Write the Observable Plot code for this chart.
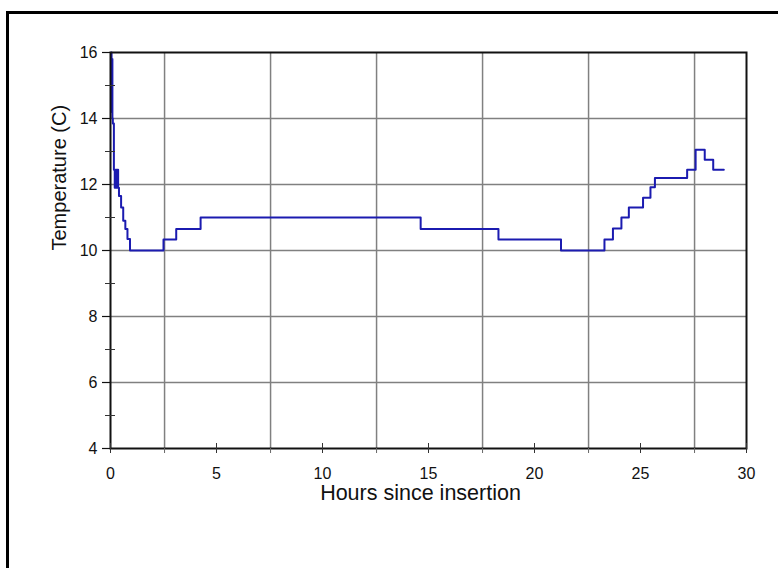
<!DOCTYPE html>
<html>
<head>
<meta charset="utf-8">
<script src="https://cdn.jsdelivr.net/npm/d3@7"></script>
<script src="https://cdn.jsdelivr.net/npm/@observablehq/plot@0.6"></script>
<style>
  html, body { margin: 0; padding: 0; background: #fff; }
  #wrap { position: relative; width: 778px; height: 568px; overflow: hidden; background: #fff; }
  #wrap svg { position: absolute; left: 0; top: 0; }
  #border { position: absolute; left: 6px; top: 11px; right: -10px; bottom: -10px;
            border-left: 3px solid #000; border-top: 3px solid #000; pointer-events: none; }
</style>
</head>
<body>
<div id="wrap"><div id="border"></div></div>
<script>
// Hours since insertion (time of each reading) and temperature (C) held from that time on
const hours = [0.03, 0.05, 0.07, 0.09, 0.11, 0.16, 0.20, 0.24, 0.28, 0.32, 0.36, 0.40, 0.50, 0.60, 0.70, 0.80, 0.92,
               2.50, 3.10, 4.25, 14.63, 18.30, 21.25, 23.30, 23.70, 24.10, 24.45, 25.12, 25.47, 25.68,
               27.20, 27.60, 28.03, 28.43, 28.93];
const temps = [16.0, 14.2, 15.8, 14.0, 13.85, 12.45, 11.9, 12.45, 11.9, 12.45, 11.9, 11.65, 11.3, 10.9, 10.65, 10.35, 10.0,
               10.33, 10.65, 11.0, 10.65, 10.33, 10.0, 10.33, 10.67, 11.0, 11.3, 11.6, 11.92, 12.2,
               12.45, 13.05, 12.75, 12.45, 12.45];

const xTicks = [0, 5, 10, 15, 20, 25, 30];
const xGrid = [2.55, 7.55, 12.55, 17.55, 22.55, 27.55];
const yTicks = [4, 6, 8, 10, 12, 14, 16];
const yMinor = [5, 7, 9, 11, 13, 15];
const yGrid = [6, 8, 10, 12, 14];
const xLabel = "Hours since insertion";
const yLabel = "Temperature (C)";

const data = hours.map((h, i) => ({h, t: temps[i]}));

const chart = Plot.plot({
  width: 778,
  height: 568,
  marginLeft: 110,
  marginRight: 32,
  marginTop: 52,
  marginBottom: 120,
  x: {domain: [0, 30]},
  y: {domain: [4, 16]},
  style: {fontFamily: "'Liberation Sans', Arial, sans-serif", color: "#111", background: "transparent"},
  marks: [
    Plot.ruleY(yGrid, {stroke: "#808080", strokeWidth: 1.5}),
    Plot.ruleX(xGrid, {stroke: "#808080", strokeWidth: 1.5}),
    Plot.line(data, {x: "h", y: "t", curve: "step-after", stroke: "#1b1bb0", strokeWidth: 2}),
    Plot.frame({stroke: "#111", strokeWidth: 2}),
    Plot.axisY({ticks: yTicks, tickSize: 8, tickPadding: 5, fontSize: 16, label: null, stroke: "#111", strokeWidth: 1.2}),
    Plot.axisY({ticks: yMinor, tickSize: 10, dx: 5, text: null, label: null, stroke: "#333", strokeWidth: 1}),
    Plot.axisX({ticks: xTicks, tickSize: 0, tickPadding: 19, fontSize: 16, label: null}),
    Plot.axisX({ticks: xTicks, tickSize: 10, dy: -5, text: null, label: null, stroke: "#333", strokeWidth: 1}),
    Plot.axisX({ticks: xGrid, tickSize: 5, text: null, label: null, stroke: "#666", strokeWidth: 1}),
    Plot.text([yLabel], {frameAnchor: "left", rotate: -90, dx: -51, fontSize: 20, fill: "#111"}),
    Plot.text([xLabel], {frameAnchor: "bottom", dy: 51, dx: -8, fontSize: 21.5, fill: "#111"})
  ]
});
document.getElementById("wrap").appendChild(chart);
</script>
</body>
</html>
